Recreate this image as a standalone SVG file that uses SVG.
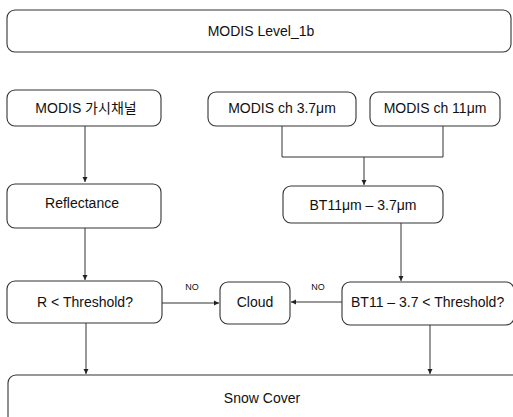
<svg xmlns="http://www.w3.org/2000/svg" width="513" height="417" viewBox="0 0 513 417">
<style>
.box{fill:#fff;stroke:#333;stroke-width:1.1}
.t{font-family:"Liberation Sans","Noto Sans CJK KR",Arial,sans-serif;font-size:14px;fill:#111;text-anchor:middle}
.no{font-family:"Liberation Sans",Arial,sans-serif;font-size:9px;fill:#111;text-anchor:middle}
.c{fill:none;stroke:#333;stroke-width:1}
</style>
<defs>
<marker id="ah" markerWidth="6" markerHeight="6" refX="5" refY="3" orient="auto" markerUnits="userSpaceOnUse">
<path d="M0,0.5 L5,3 L0,5.5 Z" fill="#222"/>
</marker>
</defs>
<rect width="513" height="417" fill="#fff"/>
<g id="connectors">
<path class="c" d="M85,126 V182" marker-end="url(#ah)"/>
<path class="c" d="M282,126 V157 H443 V126"/>
<path class="c" d="M364,157 V185" marker-end="url(#ah)"/>
<path class="c" d="M85,228 V280" marker-end="url(#ah)"/>
<path class="c" d="M401,223 V281" marker-end="url(#ah)"/>
<path class="c" d="M162,303 H219" marker-end="url(#ah)"/>
<path class="c" d="M342,302 H291" marker-end="url(#ah)"/>
<path class="c" d="M86,323 V374" marker-end="url(#ah)"/>
<path class="c" d="M430,325 V374" marker-end="url(#ah)"/>
<text class="no" x="192" y="290">NO</text>
<text class="no" x="318" y="290">NO</text>
</g>
<g id="n_level1b"><rect class="box" x="7" y="10" width="504" height="42" rx="8"/><text class="t" x="261" y="36">MODIS Level_1b</text></g>
<g id="n_visible"><rect class="box" x="7" y="90" width="154" height="36" rx="8"/><text class="t" x="86" y="113">MODIS 가시채널</text></g>
<g id="n_ch37"><rect class="box" x="208" y="92" width="148" height="34" rx="8"/><text class="t" x="282" y="113">MODIS ch 3.7μm</text></g>
<g id="n_ch11"><rect class="box" x="370" y="92" width="130" height="34" rx="8"/><text class="t" x="435" y="113">MODIS ch 11μm</text></g>
<g id="n_refl"><rect class="box" x="7" y="184" width="154" height="44" rx="8"/><text class="t" x="82" y="208">Reflectance</text></g>
<g id="n_bt"><rect class="box" x="283" y="186" width="160" height="37" rx="8"/><text class="t" x="363" y="210">BT11μm – 3.7μm</text></g>
<g id="n_rthr"><rect class="box" x="7" y="281" width="155" height="42" rx="8"/><text class="t" x="85" y="307">R &lt; Threshold?</text></g>
<g id="n_cloud"><rect class="box" x="220" y="282" width="70" height="42" rx="8"/><text class="t" x="255" y="307">Cloud</text></g>
<g id="n_btthr"><rect class="box" x="342" y="282" width="172" height="43" rx="8"/><text class="t" x="351" y="307" style="text-anchor:start">BT11 – 3.7 &lt; Threshold?</text></g>
<g id="n_snow"><rect class="box" x="8" y="375" width="520" height="60" rx="8"/><text class="t" x="262" y="403">Snow Cover</text></g>
</svg>
